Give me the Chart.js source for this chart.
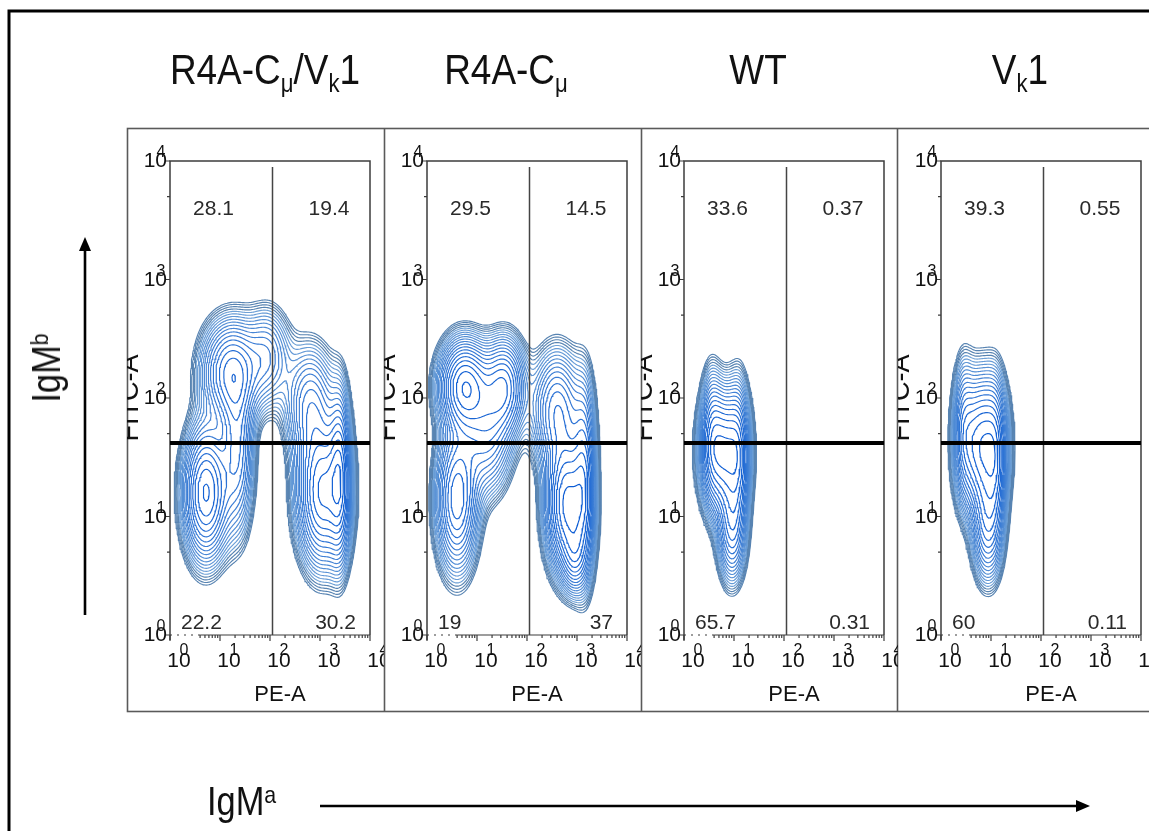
<!DOCTYPE html>
<html>
<head>
<meta charset="utf-8">
<script src="https://cdn.jsdelivr.net/npm/chart.js@4.4.1/dist/chart.umd.min.js"></script>
<style>
html, body { margin: 0; padding: 0; background: #fff; }
body { width: 1149px; height: 831px; overflow: hidden; position: relative; font-family: "Liberation Sans", Arial, sans-serif; color: #111; }
#frame { position: absolute; left: 0; top: 0; }
.panel { position: absolute; top: 128px; }
.big { position: absolute; font-size: 42px; line-height: 42px; white-space: nowrap; }
.title { top: 49px; transform: translateX(-50%) scaleX(0.88); }
sub { font-size: 0.6em; vertical-align: -0.32em; line-height: 0; }
sup { font-size: 0.62em; vertical-align: 0.5em; line-height: 0; }
#igma { left: 207px; top: 780px; font-size: 40px; transform: scaleX(0.86); transform-origin: left center; }
#igmb { left: 46px; top: 368px; font-size: 40px; transform: translate(-50%, -50%) rotate(-90deg) scaleX(0.86); }
</style>
</head>
<body>
<canvas id="frame" width="1149" height="831"></canvas>
<div id="igma" class="big">IgM<sup>a</sup></div>
<div id="igmb" class="big">IgM<sup>b</sup></div>
<script>
// panel titles and quadrant percentages (UL, UR, LL, LR)
const panelTitles = ['R4A-C<sub>μ</sub>/V<sub>k</sub>1', 'R4A-C<sub>μ</sub>', 'WT', 'V<sub>k</sub>1'];
const upperLeft  = ['28.1', '29.5', '33.6', '39.3'];
const upperRight = ['19.4', '14.5', '0.37', '0.55'];
const lowerLeft  = ['22.2', '19', '65.7', '60'];
const lowerRight = ['30.2', '37', '0.31', '0.11'];

// decade tick exponents, axis names and quadrant gates (in decades)
const decades = [0, 1, 2, 3, 4];
const xAxisName = 'PE-A';
const yAxisName = 'FITC-A';
const gateLogX = 2.05;
const gateLogY = 1.62;

// cell populations: [centre x, centre y, spread x, spread y, weight], in decades
const popR4aVk1 = [
  [0.72, 1.2, 0.27, 0.33, 1.0],
  [1.35, 1.55, 0.2, 0.42, 0.5],
  [1.2, 2.22, 0.35, 0.26, 0.7],
  [1.95, 2.35, 0.28, 0.25, 0.35],
  [3.05, 1.2, 0.3, 0.36, 1.0],
  [3.4, 1.35, 0.13, 0.42, 0.7],
  [2.8, 1.95, 0.3, 0.3, 0.45]
];
const popR4a = [
  [0.75, 2.1, 0.3, 0.23, 1.0],
  [1.55, 2.1, 0.25, 0.24, 0.7],
  [0.6, 1.15, 0.25, 0.36, 0.75],
  [1.2, 1.7, 0.3, 0.3, 0.5],
  [2.8, 1.1, 0.25, 0.33, 1.1],
  [2.6, 1.9, 0.3, 0.3, 0.55],
  [3.15, 1.3, 0.14, 0.48, 0.6],
  [2.95, 0.66, 0.15, 0.18, 0.4]
];
const popWt = [
  [0.8, 1.55, 0.26, 0.3, 1.0],
  [0.95, 0.9, 0.17, 0.27, 0.5],
  [0.55, 1.7, 0.13, 0.33, 0.3],
  [1.1, 1.5, 0.13, 0.38, 0.4]
];
const popVk1 = [
  [0.82, 1.6, 0.27, 0.34, 1.0],
  [0.92, 0.92, 0.18, 0.28, 0.5],
  [0.45, 1.75, 0.13, 0.35, 0.3],
  [1.1, 1.45, 0.13, 0.4, 0.4]
];
const populations = [popR4aVk1, popR4a, popWt, popVk1];

const titleCentres = [265, 506, 758, 1020];
const LEVELS = 20;

// ---- density grid + marching squares ----
const G0 = -0.3, GSTEP = 0.025, GN = 185;

function densityGrid(pop) {
  const grid = new Float64Array(GN * GN);
  let peak = 0;
  for (let j = 0; j < GN; j++) {
    const y = G0 + j * GSTEP;
    for (let i = 0; i < GN; i++) {
      const x = G0 + i * GSTEP;
      let d = 0;
      for (const [cx, cy, sx, sy, w] of pop) {
        const dx = (x - cx) / sx, dy = (y - cy) / sy;
        d += w * Math.exp(-0.5 * (dx * dx + dy * dy));
      }
      grid[j * GN + i] = d;
      if (d > peak) peak = d;
    }
  }
  return { grid, peak };
}

function contourLines(grid, L) {
  const segs = [];
  const v = (i, j) => grid[j * GN + i];
  const t = (a, b) => (L - a) / (b - a);
  for (let j = 0; j < GN - 1; j++) {
    for (let i = 0; i < GN - 1; i++) {
      const v00 = v(i, j), v10 = v(i + 1, j), v01 = v(i, j + 1), v11 = v(i + 1, j + 1);
      const h = [];
      if ((v00 > L) !== (v10 > L)) h[0] = ['h' + i + '_' + j, [G0 + (i + t(v00, v10)) * GSTEP, G0 + j * GSTEP]];
      if ((v10 > L) !== (v11 > L)) h[1] = ['v' + (i + 1) + '_' + j, [G0 + (i + 1) * GSTEP, G0 + (j + t(v10, v11)) * GSTEP]];
      if ((v01 > L) !== (v11 > L)) h[2] = ['h' + i + '_' + (j + 1), [G0 + (i + t(v01, v11)) * GSTEP, G0 + (j + 1) * GSTEP]];
      if ((v00 > L) !== (v01 > L)) h[3] = ['v' + i + '_' + j, [G0 + i * GSTEP, G0 + (j + t(v00, v01)) * GSTEP]];
      const e = [0, 1, 2, 3].filter(k => h[k]);
      if (e.length === 2) segs.push([h[e[0]], h[e[1]]]);
      else if (e.length === 4) {
        const centre = (v00 + v10 + v01 + v11) / 4 > L;
        if (centre === (v00 > L)) { segs.push([h[0], h[1]], [h[2], h[3]]); }
        else { segs.push([h[0], h[3]], [h[1], h[2]]); }
      }
    }
  }
  return stitch(segs);
}

// join cell segments that share an edge point into polylines
function stitch(segs) {
  const ends = new Map();
  segs.forEach((s, k) => s.forEach(([key]) => {
    if (!ends.has(key)) ends.set(key, []);
    ends.get(key).push(k);
  }));
  const used = new Uint8Array(segs.length);
  const walk = (key, out) => {
    for (;;) {
      const k = (ends.get(key) || []).find(m => !used[m]);
      if (k === undefined) return;
      used[k] = 1;
      const [a, b] = segs[k];
      const next = a[0] === key ? b : a;
      out.push(next[1]);
      key = next[0];
    }
  };
  const lines = [];
  segs.forEach((s, k) => {
    if (used[k]) return;
    used[k] = 1;
    const fwd = [s[1][1]], back = [];
    walk(s[1][0], fwd);
    walk(s[0][0], back);
    lines.push(back.reverse().concat([s[0][1]], fwd));
  });
  return lines;
}

function levelColour(k) {
  const t = k / (LEVELS - 1);
  if (t < 0.2) return 'rgb(88,132,178)';
  const u = (t - 0.2) / 0.8;
  const r = Math.round(112 + (12 - 112) * u);
  const g = Math.round(162 + (92 - 162) * u);
  const b = Math.round(214 + (212 - 214) * u);
  return `rgb(${r},${g},${b})`;
}

function contourDatasets(pop) {
  const { grid, peak } = densityGrid(pop);
  const lo = 0.05, hi = 0.92;
  const sets = [];
  for (let k = 0; k < LEVELS; k++) {
    const L = peak * lo * Math.pow(hi / lo, k / (LEVELS - 1));
    const data = [];
    for (const line of contourLines(grid, L)) {
      for (const [lx, ly] of line) data.push({ x: Math.pow(10, lx), y: Math.pow(10, ly) });
      data.push({ x: NaN, y: NaN });
    }
    sets.push({
      data, showLine: true, spanGaps: false, fill: false,
      borderColor: levelColour(k), borderWidth: 1.15,
      pointRadius: 0, pointHoverRadius: 0
    });
  }
  return sets;
}

// ---- axes, gates and quadrant labels ----
const flowAxes = {
  id: 'flowAxes',
  afterDraw(chart, args, opts) {
    const { ctx, chartArea: a, scales: { x, y } } = chart;
    const px = d => x.getPixelForValue(Math.pow(10, d));
    const py = d => y.getPixelForValue(Math.pow(10, d));
    const i = opts.index;
    ctx.save();

    // plot frame
    ctx.strokeStyle = '#3c3c3c';
    ctx.lineWidth = 1.5;
    ctx.beginPath();
    ctx.moveTo(a.left, a.bottom + 5);
    ctx.lineTo(a.left, a.top);
    ctx.lineTo(a.right, a.top);
    ctx.lineTo(a.right, a.bottom);
    ctx.stroke();

    // x axis: dotted near zero, then solid with minor ticks
    ctx.lineWidth = 1.2;
    ctx.setLineDash([2, 5]);
    ctx.beginPath();
    ctx.moveTo(a.left, a.bottom);
    ctx.lineTo(x.getPixelForValue(4), a.bottom);
    ctx.stroke();
    ctx.setLineDash([]);
    ctx.beginPath();
    ctx.moveTo(x.getPixelForValue(4), a.bottom);
    ctx.lineTo(a.right, a.bottom);
    ctx.stroke();
    ctx.beginPath();
    for (let n = 0; n < 4; n++) {
      for (let m = 1; m <= 9; m++) {
        const val = m * Math.pow(10, n);
        if (val > 1 && val < 4) continue;
        const xx = x.getPixelForValue(val);
        ctx.moveTo(xx, a.bottom);
        ctx.lineTo(xx, a.bottom + (m === 1 ? 6 : 3));
      }
    }
    ctx.moveTo(a.right, a.bottom);
    ctx.lineTo(a.right, a.bottom + 6);
    // y axis ticks at decades and at 5x
    for (const d of decades) {
      ctx.moveTo(a.left - 5, py(d));
      ctx.lineTo(a.left, py(d));
      if (d < 4) {
        ctx.moveTo(a.left - 3, py(d + Math.log10(5)));
        ctx.lineTo(a.left, py(d + Math.log10(5)));
      }
    }
    ctx.stroke();

    // tick labels: "10" with its exponent drawn over it
    ctx.fillStyle = '#111';
    for (const d of decades) {
      ctx.font = '21px "Liberation Sans", Arial, sans-serif';
      ctx.textAlign = 'right';
      ctx.textBaseline = 'alphabetic';
      ctx.fillText('10', a.left - 3, py(d) + 6);
      ctx.textAlign = 'center';
      ctx.fillText('10', px(d) + 9, a.bottom + 32);
      ctx.font = '16px "Liberation Sans", Arial, sans-serif';
      ctx.fillText(String(d), a.left - 9, py(d) - 4);
      ctx.fillText(String(d), px(d) + 14, a.bottom + 20);
    }

    // axis names
    ctx.font = '22px "Liberation Sans", Arial, sans-serif';
    ctx.textAlign = 'center';
    ctx.fillText(xAxisName, (a.left + a.right) / 2 + 10, a.bottom + 66);
    ctx.save();
    ctx.translate(11, (a.top + a.bottom) / 2);
    ctx.rotate(-Math.PI / 2);
    ctx.font = '27px "Liberation Sans", Arial, sans-serif';
    ctx.fillText(yAxisName, 0, 0);
    ctx.restore();

    // quadrant gates
    ctx.strokeStyle = '#444';
    ctx.lineWidth = 1.5;
    ctx.beginPath();
    ctx.moveTo(px(gateLogX), a.top + 6);
    ctx.lineTo(px(gateLogX), a.bottom);
    ctx.stroke();
    ctx.strokeStyle = '#000';
    ctx.lineWidth = 4;
    ctx.beginPath();
    ctx.moveTo(a.left, py(gateLogY));
    ctx.lineTo(a.right, py(gateLogY));
    ctx.stroke();

    // quadrant percentages
    ctx.fillStyle = '#2a2a2a';
    ctx.font = '21px "Liberation Sans", Arial, sans-serif';
    ctx.textBaseline = 'middle';
    ctx.textAlign = 'center';
    ctx.fillText(upperLeft[i], px(0.87), py(3.59));
    ctx.fillText(upperRight[i], px(3.18), py(3.59));
    ctx.textAlign = 'left';
    ctx.fillText(lowerLeft[i], px(0.22), py(0.1));
    ctx.textAlign = 'right';
    ctx.fillText(lowerRight[i], px(3.72), py(0.1));
    ctx.restore();
  }
};

function panelConfig(pop, index) {
  const logAxis = extra => Object.assign({
    type: 'logarithmic', min: 1, max: 10000,
    grid: { display: false }, border: { display: false }, ticks: { display: false }
  }, extra);
  return {
    type: 'scatter',
    data: { datasets: contourDatasets(pop) },
    options: {
      responsive: false,
      animation: false,
      events: [],
      layout: { padding: { left: 0, top: 33, right: 14, bottom: 0 } },
      plugins: { legend: { display: false }, tooltip: { enabled: false }, flowAxes: { index } },
      scales: {
        x: logAxis({ afterFit: s => { s.height = 77; } }),
        y: logAxis({ afterFit: s => { s.width = 43; } })
      }
    },
    plugins: [flowAxes]
  };
}

// ---- page frame, arrows and panels ----
const fc = document.getElementById('frame').getContext('2d');
fc.strokeStyle = '#000';
fc.lineWidth = 3;
fc.beginPath();
fc.moveTo(9, 831);
fc.lineTo(9, 11);
fc.lineTo(1149, 11);
fc.stroke();
fc.strokeStyle = '#5a5a5a';
fc.lineWidth = 1.6;
fc.strokeRect(127.5, 128.5, 1100, 583);
[384, 641, 897].forEach(xx => {
  fc.beginPath();
  fc.moveTo(xx + 0.5, 128);
  fc.lineTo(xx + 0.5, 712);
  fc.stroke();
});

function arrow(x1, y1, x2, y2) {
  const ang = Math.atan2(y2 - y1, x2 - x1), len = 14, half = 6;
  fc.strokeStyle = '#000';
  fc.fillStyle = '#000';
  fc.lineWidth = 2.6;
  fc.beginPath();
  fc.moveTo(x1, y1);
  fc.lineTo(x2 - len * Math.cos(ang), y2 - len * Math.sin(ang));
  fc.stroke();
  fc.beginPath();
  fc.moveTo(x2, y2);
  fc.lineTo(x2 - len * Math.cos(ang) - half * Math.sin(ang), y2 - len * Math.sin(ang) + half * Math.cos(ang));
  fc.lineTo(x2 - len * Math.cos(ang) + half * Math.sin(ang), y2 - len * Math.sin(ang) - half * Math.cos(ang));
  fc.closePath();
  fc.fill();
}
arrow(85, 615, 85, 237);
arrow(320, 806, 1090, 806);

panelTitles.forEach((html, i) => {
  const t = document.createElement('div');
  t.className = 'big title';
  t.style.left = titleCentres[i] + 'px';
  t.innerHTML = html;
  document.body.appendChild(t);
});

populations.forEach((pop, i) => {
  const cv = document.createElement('canvas');
  cv.width = 257;
  cv.height = 584;
  cv.className = 'panel';
  cv.style.left = (127 + 257 * i) + 'px';
  document.body.appendChild(cv);
  new Chart(cv, panelConfig(pop, i));
});
</script>
</body>
</html>
